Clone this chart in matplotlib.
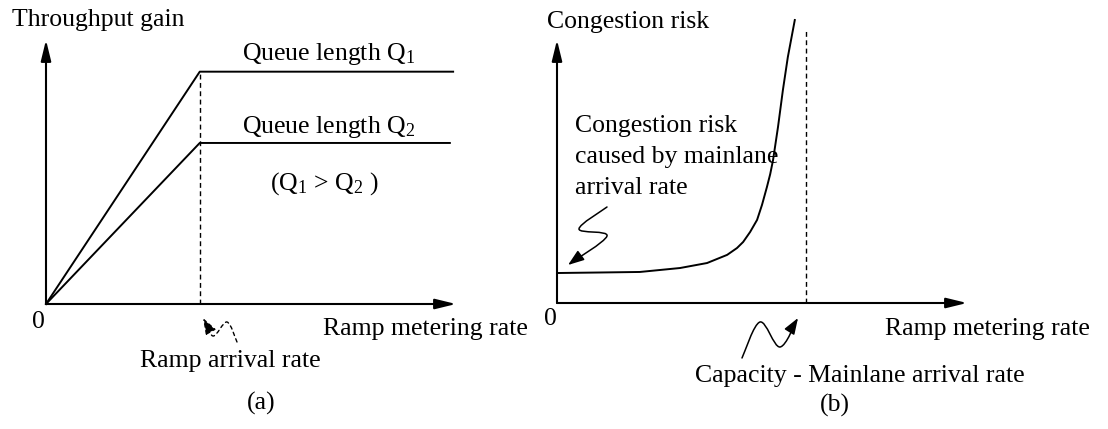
import numpy as np
import matplotlib
matplotlib.use("Agg")
import matplotlib.pyplot as plt
from matplotlib.path import Path
from matplotlib.patches import FancyArrowPatch

plt.rcParams['font.family'] = ['Liberation Serif', 'DejaVu Serif']
plt.rcParams['mathtext.fontset'] = 'custom'
plt.rcParams['mathtext.rm'] = 'Liberation Serif'
plt.rcParams['mathtext.it'] = 'Liberation Serif:italic'

W, H = 1108, 429
FS = 18.5

# ---- data: panel (a), throughput gain vs ramp metering rate ----
ramp_arrival = 3.75
gain_q1 = 8.8
gain_q2 = 6.1
x_q1 = [0, ramp_arrival, 9.93]
y_q1 = [0, gain_q1, gain_q1]
x_q2 = [0, ramp_arrival, 9.85]
y_q2 = [0, gain_q2, gain_q2]

# ---- data: panel (b), congestion risk vs ramp metering rate ----
cap_minus_main = 6.07
risk_x = [0, 1.05, 2.02, 3.0, 3.66, 4.15, 4.39, 4.54, 4.71, 4.88, 5.0,
          5.12, 5.20, 5.27, 5.39, 5.51, 5.63, 5.80]
risk_y = [1.14, 1.16, 1.18, 1.33, 1.52, 1.83, 2.09, 2.32, 2.70, 3.16, 3.73,
          4.41, 4.90, 5.44, 6.69, 8.10, 9.35, 10.76]

# squiggly pointer arrows (figure pixels, y down)
squig_a = [(237, 342), (227, 322), (213, 336), (203, 318)]
squig_b1 = [(607, 207), (579, 229), (607, 236), (568, 265)]
squig_b2 = [(742, 358), (760, 322), (780, 347), (798, 318)]


def px_box(x0, y0, x1, y1):
    # axes rect from pixel corners (x0,y0 = origin bottom-left, x1,y1 = top-right)
    return [x0 / W, 1 - y0 / H, (x1 - x0) / W, (y0 - y1) / H]


def smooth_path(pts):
    # catmull-rom through the points, as cubic bezier segments
    p = np.array(pts, dtype=float)
    ext = np.vstack([p[0], p, p[-1]])
    verts = [p[0]]
    codes = [Path.MOVETO]
    for i in range(1, len(ext) - 2):
        c1 = ext[i] + (ext[i + 1] - ext[i - 1]) / 6
        c2 = ext[i + 1] - (ext[i + 2] - ext[i]) / 6
        verts += [c1, c2, ext[i + 1]]
        codes += [Path.CURVE4] * 3
    return Path(verts, codes)


fig = plt.figure(figsize=(W / 100, H / 100), dpi=100)

# overlay in pixel coordinates for labels and pointers
ov = fig.add_axes([0, 0, 1, 1])
ov.set_xlim(0, W)
ov.set_ylim(H, 0)
ov.axis('off')
ov.patch.set_alpha(0)

arrow_kw = dict(arrowstyle='-|>,head_length=0.9,head_width=0.22', lw=1.5,
                color='k', shrinkA=0, shrinkB=0, mutation_scale=14)

# ---- panel (a) ----
axa = fig.add_axes(px_box(46, 304, 456, 40))
axa.set_xlim(0, 10)
axa.set_ylim(0, 10)
axa.axis('off')
axa.annotate('', xy=(10, 0), xytext=(0, 0), arrowprops=arrow_kw, annotation_clip=False)
axa.annotate('', xy=(0, 10), xytext=(0, 0), arrowprops=arrow_kw, annotation_clip=False)
axa.plot(x_q1, y_q1, color='k', lw=1.4, clip_on=False)
axa.plot(x_q2, y_q2, color='k', lw=1.4, clip_on=False)
axa.plot([ramp_arrival, ramp_arrival], [0, gain_q1], color='k', lw=1.0,
         ls=(0, (3.5, 2.5)), clip_on=False)

# ---- panel (b) ----
axb = fig.add_axes(px_box(557, 303, 967, 40))
axb.set_xlim(0, 10)
axb.set_ylim(0, 10)
axb.axis('off')
axb.annotate('', xy=(10, 0), xytext=(0, 0), arrowprops=arrow_kw, annotation_clip=False)
axb.annotate('', xy=(0, 10), xytext=(0, 0), arrowprops=arrow_kw, annotation_clip=False)
axb.plot(risk_x, risk_y, color='k', lw=1.4, clip_on=False,
         solid_joinstyle='round')
axb.plot([cap_minus_main, cap_minus_main], [0, 10.46], color='k', lw=1.0,
         ls=(0, (3.5, 2.5)), clip_on=False)

# ---- pointers ----
head = '-|>,head_length=0.7,head_width=0.25'
ov.add_patch(FancyArrowPatch(path=smooth_path(squig_a), arrowstyle=head, lw=1.0,
                             color='k', ls=(0, (2.5, 2.5)), mutation_scale=14))
ov.add_patch(FancyArrowPatch(path=smooth_path(squig_b1), arrowstyle=head, lw=1.1,
                             color='k', mutation_scale=14))
ov.add_patch(FancyArrowPatch(path=smooth_path(squig_b2), arrowstyle=head, lw=1.1,
                             color='k', mutation_scale=14))

# ---- labels ----
def lab(x, y, s, ha='left'):
    ov.text(x, y, s, fontsize=FS, ha=ha, va='baseline')

lab(12, 26, 'Throughput gain')
lab(242, 60, r'Queue length $\mathrm{Q}_1$')
lab(242, 133, r'Queue length $\mathrm{Q}_2$')
lab(270, 190, r'($\mathrm{Q}_1$ > $\mathrm{Q}_2$ )')
lab(38, 328, '0', ha='center')
lab(323, 335, 'Ramp metering rate')
lab(140, 367, 'Ramp arrival rate')
lab(261, 410, '(a)', ha='center')

lab(547, 28, 'Congestion risk')
for yy, line in zip([132, 163, 194],
                    ['Congestion risk', 'caused by mainlane', 'arrival rate']):
    lab(575, yy, line)
lab(550, 325, '0', ha='center')
lab(885, 335, 'Ramp metering rate')
lab(695, 382, 'Capacity - Mainlane arrival rate')
lab(835, 412, '(b)', ha='center')

fig.savefig('out.png', dpi=100)
